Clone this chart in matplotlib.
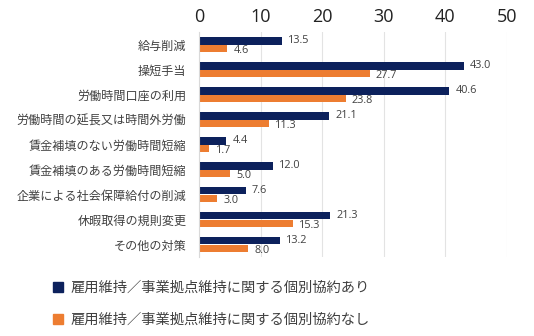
import matplotlib
matplotlib.use("Agg")
import matplotlib.pyplot as plt
import numpy as np
from matplotlib.lines import Line2D

plt.rcParams['font.family'] = ['Noto Sans CJK JP', 'DejaVu Sans']

categories = ["給与削減", "操短手当", "労働時間口座の利用", "労働時間の延長又は時間外労働",
              "賃金補填のない労働時間短縮", "賃金補填のある労働時間短縮",
              "企業による社会保障給付の削減", "休暇取得の規則変更", "その他の対策"]
with_agreement = [13.5, 43.0, 40.6, 21.1, 4.4, 12.0, 7.6, 21.3, 13.2]
without_agreement = [4.6, 27.7, 23.8, 11.3, 1.7, 5.0, 3.0, 15.3, 8.0]
series_names = ["雇用維持／事業拠点維持に関する個別協約あり", "雇用維持／事業拠点維持に関する個別協約なし"]
xticks = [0, 10, 20, 30, 40, 50]

navy = "#0c215c"
orange = "#ed7d31"
txt = "#404040"

fig = plt.figure(figsize=(5.34, 3.36), dpi=100)
ax = fig.add_axes([199/534, 1-257/336, (507-199)/534, (257-32)/336])

y = np.arange(len(categories))
h = 0.3
ax.barh(y - h/2, with_agreement, height=h, color=navy)
ax.barh(y + h/2, without_agreement, height=h, color=orange)

for yi, v in zip(y, with_agreement):
    ax.text(v + 1.0, yi - h/2 - 0.02, f"{v:.1f}", va='center', ha='left', fontsize=7.8,
            color=txt, family=['Open Sans', 'DejaVu Sans'])
for yi, v in zip(y, without_agreement):
    ax.text(v + 1.0, yi + h/2 + 0.08, f"{v:.1f}", va='center', ha='left', fontsize=7.8,
            color=txt, family=['Open Sans', 'DejaVu Sans'])

ax.set_xlim(0, 50)
ax.set_ylim(len(categories) - 0.5, -0.5)
ax.set_xticks(xticks)
ax.xaxis.tick_top()
ax.set_xticklabels([str(t) for t in xticks], fontsize=13, color="#222222",
                   family=['Open Sans', 'DejaVu Sans'])
ax.tick_params(axis='x', length=0, pad=4)
ax.set_yticks(y)
ax.set_yticklabels(categories, fontsize=8.7, color=txt)
ax.tick_params(axis='y', length=0, pad=9)
ax.grid(axis='x', color="#e3e3e3", linewidth=0.8)
ax.set_axisbelow(True)
for s in ['top', 'right', 'bottom']:
    ax.spines[s].set_visible(False)
ax.spines['left'].set_color("#d9d9d9")
ax.spines['left'].set_linewidth(0.8)

handles = [Line2D([], [], marker='s', linestyle='none', markersize=6.5, color=navy),
           Line2D([], [], marker='s', linestyle='none', markersize=6.5, color=orange)]
fig.legend(handles, series_names, loc='upper left', bbox_to_anchor=(44/534, 1-274/336),
           frameon=False, fontsize=10.3, labelcolor=txt, handletextpad=0.35,
           labelspacing=1.25, borderpad=0, handlelength=1.0)

fig.savefig("out.png", dpi=100)
